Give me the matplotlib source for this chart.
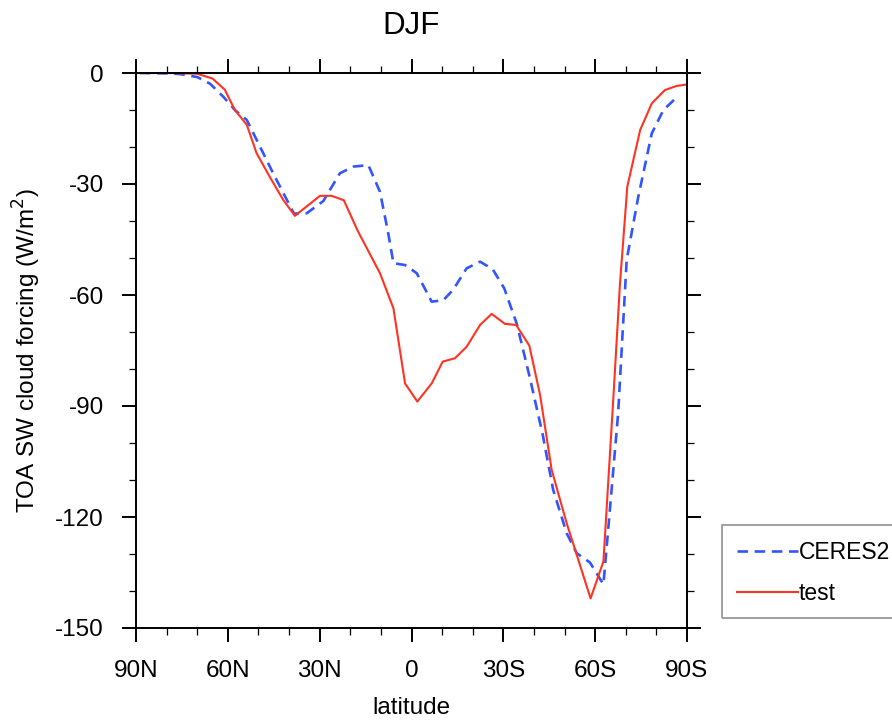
import matplotlib
matplotlib.use("Agg")
import matplotlib.pyplot as plt
from matplotlib.patches import Rectangle
from matplotlib.ticker import MultipleLocator

plt.rcParams['font.family'] = ['Liberation Sans', 'DejaVu Sans']
plt.rcParams['axes.unicode_minus'] = False

# ---- data ----
test_lat = [90, 80, 70, 65, 61, 57.7, 53.8, 50.6, 46, 41.9, 38.1, 29.9, 26.1, 22.1, 17.6,
            10.3, 5.9, 2.1, -1.9, -6.6, -10.2, -14.2, -18.0, -22.4, -26.2, -30.5, -34.2,
            -38.5, -42.0, -45.8, -50.7, -58.5, -62.7, -66.0, -68.1, -70.5, -74.7, -78.5,
            -82.8, -86.6, -90]
test_val = [0, 0, -0.2, -1.5, -4.5, -10, -14, -21.7, -28.5, -34.3, -38.6, -33.2, -33.2,
            -34.4, -42.6, -54.1, -63.6, -83.9, -88.8, -83.9, -78, -77.1, -74, -68.1, -65.1,
            -67.8, -68.1, -73.7, -87, -107.3, -121.7, -142, -132, -87, -57, -30.7, -15.4,
            -8.2, -4.6, -3.5, -3.1]

ceres_lat = [88.7, 80, 75.6, 70, 65.8, 61.5, 57.7, 53.8, 49.5, 45.2, 38.4, 34.2, 28.8,
             23.4, 19.0, 14.1, 10.3, 7.6, 5.9, 2.1, -1.7, -6.6, -10.4, -13.6, -18.0, -22.4,
             -26.5, -30.3, -34.4, -38.7, -42.8, -46.3, -50.7, -54.0, -58.3, -62.7, -64.5,
             -67.5, -70.3, -74.0, -78.5, -82.3, -86.6]
ceres_val = [0, -0.1, -0.3, -1.1, -2.9, -6.4, -10, -12.7, -19.9, -27.1, -38.0, -37.9,
             -34.6, -27.1, -25.3, -24.9, -32.1, -43.3, -51.4, -51.9, -54.1, -61.8, -61.4,
             -58.6, -52.8, -51.0, -53.0, -58.2, -67.8, -82.5, -97.5, -112.7, -124.4,
             -129.8, -132.3, -138.2, -121, -92, -50.5, -33.8, -16.3, -10, -6.6]

xticks = [90, 60, 30, 0, -30, -60, -90]
xticklabels = ['90N', '60N', '30N', '0', '30S', '60S', '90S']
yticks = [0, -30, -60, -90, -120, -150]

W, H = 892, 722
fig = plt.figure(figsize=(W / 100, H / 100), dpi=100)
ax = fig.add_axes([136 / W, 1 - 628 / H, (687 - 136) / W, (628 - 73) / H])

l1, = ax.plot(ceres_lat, ceres_val, color='#3355ff', lw=1.9, linestyle=(0, (4.0, 2.5)),
              label='CERES2')
l2, = ax.plot(test_lat, test_val, color='#ff3322', lw=1.5, label='test')

ax.set_xlim(90, -90)
ax.set_ylim(-150, 0)
ax.set_xticks(xticks)
ax.set_xticklabels(xticklabels)
ax.set_yticks(yticks)
ax.xaxis.set_minor_locator(MultipleLocator(10))
ax.yaxis.set_minor_locator(MultipleLocator(10))
ax.tick_params(which='both', direction='out', top=True, right=True,
               labeltop=False, labelright=False)
ax.tick_params(which='major', length=10, width=1.4, pad=13, labelsize=17.5)
ax.tick_params(which='minor', length=5, width=0.9)
for s in ax.spines.values():
    s.set_linewidth(1.4)

ax.set_title('DJF', fontsize=22.5, y=1.07, pad=0)
ax.set_ylabel('TOA SW cloud forcing (W/m$^2$)', fontsize=17.5)
ax.yaxis.set_label_coords(-0.168, 0.5)
ax.set_xlabel('latitude', fontsize=17.5)
ax.xaxis.set_label_coords(0.5, -0.125)

# legend box
fig.patches.append(Rectangle((722 / W, 1 - 618 / H), 0.25, 93 / H, transform=fig.transFigure,
                             fill=False, edgecolor='#909090', lw=1.2))
fig.legend(handles=[l1, l2], labels=['CERES2', 'test'], loc='center left',
           bbox_to_anchor=(726 / W, 1 - 573 / H), frameon=False, borderpad=0,
           handletextpad=0, handlelength=2.66, labelspacing=0.8, fontsize=16.5)

fig.savefig('out.png', dpi=100)
